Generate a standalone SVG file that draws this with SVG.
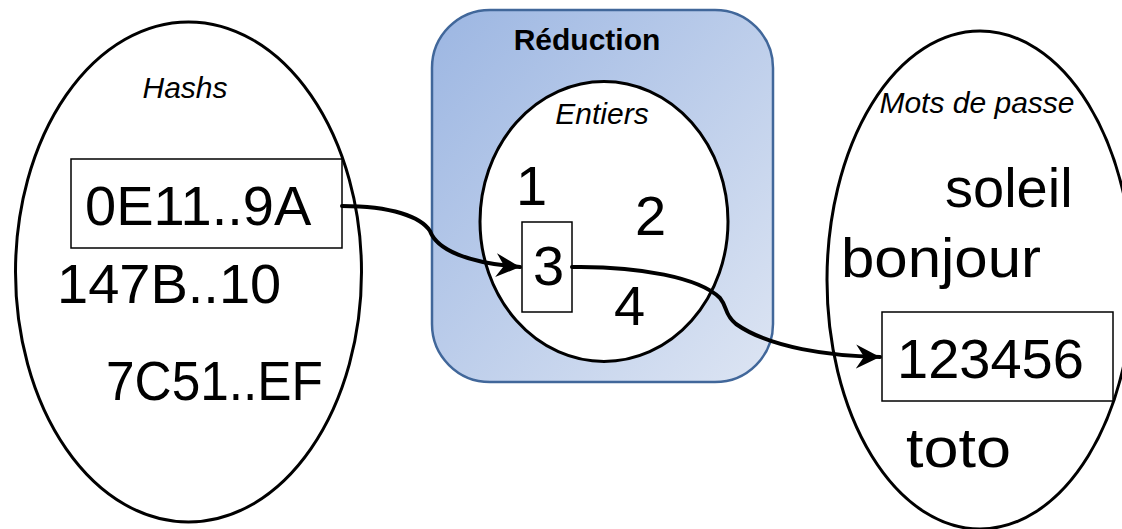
<svg xmlns="http://www.w3.org/2000/svg" width="1122" height="529" viewBox="0 0 1122 529">
  <defs>
    <linearGradient id="reductionFill" x1="0" y1="0" x2="1" y2="1">
      <stop offset="0" stop-color="#9cb6e2"/>
      <stop offset="1" stop-color="#dde5f3"/>
    </linearGradient>
    <marker id="arrowHead" viewBox="0 0 26 26" refX="24" refY="13" markerWidth="26" markerHeight="26" markerUnits="userSpaceOnUse" orient="auto">
      <path d="M0,1 L24,13 L0,25 L8,13 Z" fill="#000"/>
    </marker>
    <style>
      .set { fill: #fff; stroke: #000; stroke-width: 3; }
      .item { fill: #fff; stroke: #000; stroke-width: 1.5; }
      .big { font-family: "Liberation Sans", Arial, sans-serif; font-size: 56px; fill: #000; }
      .title { font-family: "Liberation Sans", Arial, sans-serif; font-size: 30px; font-style: italic; fill: #000; }
      .head { font-family: "Liberation Sans", Arial, sans-serif; font-size: 30px; font-weight: bold; fill: #000; }
      .link { fill: none; stroke: #000; stroke-width: 4; stroke-linecap: round; }
    </style>
  </defs>

  <rect width="1122" height="529" fill="#fff"/>

  <!-- set of hashes -->
  <g id="hashs">
    <ellipse class="set" cx="188.5" cy="272" rx="173" ry="250"/>
    <text class="title" x="185" y="98" text-anchor="middle">Hashs</text>
    <rect class="item" x="71" y="159" width="271" height="89"/>
    <text class="big" x="85" y="225">0E11..9A</text>
    <text class="big" x="57" y="303">147B..10</text>
    <text class="big" x="106" y="400" textLength="217" lengthAdjust="spacingAndGlyphs">7C51..EF</text>
  </g>

  <!-- reduction function box with the integer set -->
  <g id="reduction">
    <rect x="432" y="10" width="341" height="372" rx="58" ry="58" fill="url(#reductionFill)" stroke="#41679a" stroke-width="2.5"/>
    <text class="head" x="587" y="50" text-anchor="middle">Réduction</text>
  </g>

  <g id="entiers">
    <ellipse class="set" cx="604" cy="221.5" rx="124" ry="140"/>
    <text class="title" x="602" y="124" text-anchor="middle">Entiers</text>
    <text class="big" x="516" y="205">1</text>
    <text class="big" x="635" y="235">2</text>
    <rect class="item" x="522" y="222" width="50" height="90"/>
    <text class="big" x="533" y="285">3</text>
    <text class="big" x="614" y="325">4</text>
  </g>

  <!-- set of passwords -->
  <g id="mots-de-passe">
    <ellipse class="set" cx="980" cy="280" rx="153" ry="249"/>
    <text class="title" x="977" y="113" text-anchor="middle">Mots de passe</text>
    <text class="big" x="945" y="207">soleil</text>
    <text class="big" x="841" y="277" textLength="200" lengthAdjust="spacingAndGlyphs">bonjour</text>
    <rect class="item" x="882" y="312" width="231" height="89"/>
    <text class="big" x="897" y="378">123456</text>
    <text class="big" x="906" y="467" textLength="105" lengthAdjust="spacingAndGlyphs">toto</text>
  </g>

  <!-- connectors -->
  <g id="connectors">
    <path class="link" marker-end="url(#arrowHead)" d="M342,206 C392,206 421,217 430,231 C437,250 468,263 520,267"/>
    <path class="link" marker-end="url(#arrowHead)" d="M572,267 C640,266 700,278 720,298 C728,308 724,314 736,324 C770,348 830,356 880,357"/>
  </g>
</svg>
